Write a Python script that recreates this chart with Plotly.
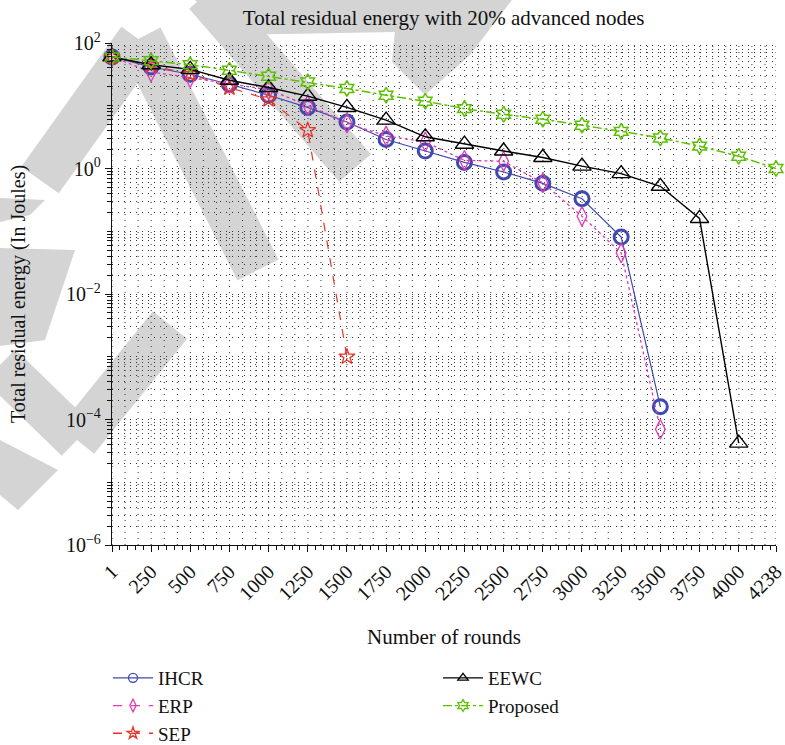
import math
import plotly.graph_objects as go

# Rounds at which the residual energy was sampled
rounds = [1, 250, 500, 750, 1000, 1250, 1500, 1750, 2000, 2250, 2500,
          2750, 3000, 3250, 3500, 3750, 4000, 4238]
tick_labels = [str(r) for r in rounds]

# Total residual energy (J) per protocol
ihcr = [60, 41.5, 31.8, 22, 14.7, 9.4, 5.5, 2.9, 1.9, 1.25, 0.88, 0.58,
        0.33, 0.081, 1.6e-4]
erp = [60, 34.5, 28, 22.5, 18, 10.2, 5.3, 3.3, 2.65, 1.35, 1.3, 0.59,
       0.173, 0.045, 7e-5]
sep = [60, 44, 32, 19.5, 12.6, 4.07, 1e-3]
eewc = [60, 45, 38, 25.5, 19.5, 14.2, 9.4, 5.9, 3.2, 2.44, 1.9, 1.5, 1.09,
        0.83, 0.52, 0.16, 4.2e-5]
proposed = [60, 52, 45, 36.7, 29.5, 24, 18.8, 14.7, 11.8, 9.0, 7.3, 6.1,
            4.9, 3.9, 3.07, 2.27, 1.57, 1.0]

FONT = "Liberation Serif"
W, H = 785, 745
ML, MR, MT, MB = 112, 9, 43, 200
PW, PH = W - ML - MR, H - MT - MB

fig = go.Figure()

# name, values, colour, dash, symbol, plot marker size, marker stroke, line width, legend
series = [
    ("IHCR", ihcr, "#4049b0", "solid", "circle-open", 14, 3, 1.2, "legend"),
    ("ERP", erp, "#e03ab4", "dot", "diamond-tall-open", 14, 1.3, 1.3, "legend"),
    ("SEP", sep, "#e8332b", "dash", "star-open", 12, 1.3, 1.2, "legend"),
    ("EEWC", eewc, "#000000", "solid", "triangle-up-open", 16, 1.4, 1.4, "legend2"),
    ("Proposed", proposed, "#5cc000", "dashdot", "hexagram-open", 12, 1.5, 1.5, "legend2"),
]

for name, vals, color, dash, sym, size, mlw, lw, leg in series:
    fig.add_trace(go.Scatter(
        x=rounds[:len(vals)], y=vals, name=name, mode="lines+markers",
        line=dict(color=color, width=lw, dash=dash),
        marker=dict(symbol=sym, size=size, color=color,
                    line=dict(color=color, width=mlw)),
        cliponaxis=False, showlegend=False,
    ))

# Legend keys with slimmer markers
for name, vals, color, dash, sym, size, mlw, lw, leg in series:
    fig.add_trace(go.Scatter(
        x=[None], y=[None], name=name, mode="lines+markers",
        line=dict(color=color, width=1.3, dash=dash if dash != "dot" else "dash"),
        marker=dict(symbol=sym, size=9, color=color,
                    line=dict(color=color, width=1.3)),
        legend=leg,
    ))


# --- page helpers: pixel position -> paper fraction ---
def px(x):
    return (x - ML) / PW


def py(y):
    return 1 - (y - MT) / PH


def poly(points):
    d = "M " + " L ".join(f"{px(x):.4f},{py(y):.4f}" for x, y in points) + " Z"
    return dict(type="path", xref="paper", yref="paper", path=d,
                fillcolor="#d4d4d4", line=dict(width=0), layer="below")


def band(x1, y1, x2, y2, w):
    L = math.hypot(x2 - x1, y2 - y1)
    nx, ny = -(y2 - y1) / L * w / 2, (x2 - x1) / L * w / 2
    return poly([(x1 + nx, y1 + ny), (x2 + nx, y2 + ny),
                 (x2 - nx, y2 - ny), (x1 - nx, y1 - ny)])


# light grey background stamp
stamp = [
    band(140, 38, 258, 270, 46),
    band(205, -5, 355, 168, 42),
    poly([(195, 0), (400, 0), (395, 32), (230, 35)]),
    poly([(385, 0), (512, 0), (470, 55), (425, 95), (392, 62), (395, 30)]),
    band(140, 40, 40, 180, 46),
    poly([(0, 198), (45, 200), (30, 215), (0, 222)]),
    poly([(0, 248), (75, 250), (45, 340), (0, 346)]),
    band(170, 325, 77, 440, 44),
    band(77, 440, 0, 365, 44),
    poly([(0, 440), (58, 470), (18, 510), (0, 495)]),
]

# Vertical dotted grid every third of a labelled interval
x0, x1 = rounds[0], rounds[-1]
step = 250 / 3
gx = [x0 + k * step for k in range(int((x1 - x0) / step) + 1)] + [x1]
grid = [dict(type="line", xref="x", yref="paper", x0=v, x1=v, y0=0, y1=1,
             layer="below", line=dict(color="#333", width=1, dash="1px,5px"))
        for v in gx]

# Log minor positions (2..9 per decade, plus odd decades)
minor_vals = []
for k in range(-6, 2):
    for m in range(1, 10):
        if m == 1 and k % 2 == 0:
            continue
        minor_vals.append(m * 10 ** k)

major_vals = [1e-6, 1e-4, 1e-2, 1, 1e2]
major_text = ["10<sup>−6</sup>", "10<sup>−4</sup>", "10<sup>−2</sup>",
              "10<sup>0</sup>", "10<sup>2</sup>"]

minor_x = list(range(50, 4238, 50))

legend_style = dict(xanchor="left", yanchor="top", bgcolor="rgba(0,0,0,0)",
                    font=dict(size=19), itemwidth=40, tracegroupgap=0)

fig.update_layout(
    width=W, height=H,
    margin=dict(l=ML, r=MR, t=MT, b=MB, autoexpand=False),
    paper_bgcolor="white", plot_bgcolor="rgba(0,0,0,0)",
    font=dict(family=FONT, color="#111", size=20),
    title=dict(text="Total residual energy with 20% advanced nodes",
               x=443.7 / W, xanchor="center",
               y=1 - 18 / H, yanchor="middle",
               font=dict(family=FONT, size=21, color="#111")),
    shapes=stamp + grid,
    showlegend=True,
    legend=dict(x=px(108), y=py(659), **legend_style),
    legend2=dict(x=px(438), y=py(659), **legend_style),
    xaxis=dict(
        range=[x0, x1], tickvals=rounds, ticktext=tick_labels,
        tickangle=-45, tickfont=dict(size=20), automargin=False,
        ticklabeloverflow="allow",
        ticks="outside", ticklen=6, tickwidth=1.2, tickcolor="#111",
        showline=True, linecolor="#111", linewidth=1.4,
        showgrid=False, zeroline=False,
        minor=dict(tickvals=minor_x, ticks="outside", ticklen=4,
                   tickwidth=1, tickcolor="#111", showgrid=False),
        title=dict(text="Number of rounds", font=dict(size=21), standoff=25),
    ),
    yaxis=dict(
        type="log", range=[-6, 2], tickvals=major_vals, ticktext=major_text,
        tickfont=dict(size=20), automargin=False,
        ticks="outside", ticklen=6, tickwidth=1.2, tickcolor="#111",
        showline=True, linecolor="#111", linewidth=1.4,
        showgrid=True, gridcolor="#333", gridwidth=1, griddash="1px,5px",
        zeroline=False,
        minor=dict(tickvals=minor_vals, ticks="outside", ticklen=4,
                   tickwidth=1, tickcolor="#111", showgrid=True,
                   gridcolor="#333", gridwidth=1, griddash="1px,5px"),
        title=dict(text="Total residual energy (In Joules)",
                   font=dict(size=20), standoff=34),
    ),
)

fig.write_html("out.html")
